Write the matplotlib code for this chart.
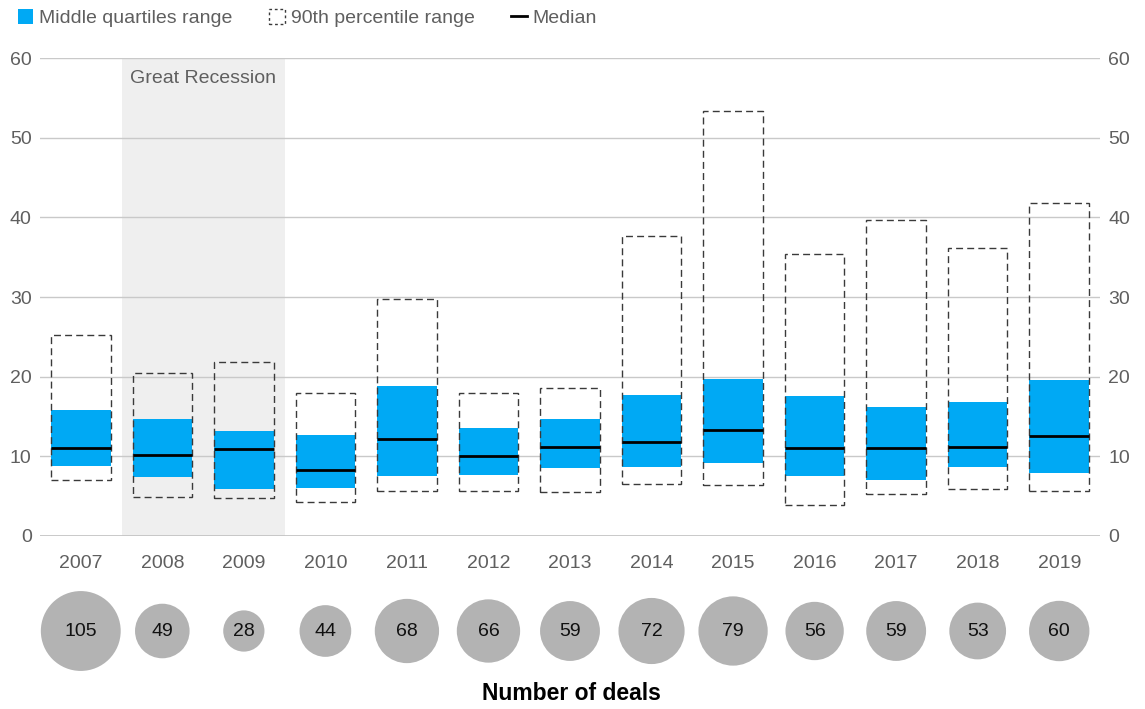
import numpy as np
import matplotlib.pyplot as plt
from matplotlib.patches import Patch
from matplotlib.lines import Line2D

plt.rcParams['font.family'] = ['Liberation Sans', 'DejaVu Sans']

years = ['2007', '2008', '2009', '2010', '2011', '2012', '2013',
         '2014', '2015', '2016', '2017', '2018', '2019']
p_low = [7.0, 4.85, 4.8, 4.3, 5.7, 5.65, 5.55, 6.5, 6.4, 3.85, 5.25, 5.85, 5.6]
p_high = [25.2, 20.5, 21.9, 18.0, 29.8, 17.9, 18.6, 37.6, 53.4, 35.4, 39.7, 36.1, 41.8]
q_low = [8.8, 7.45, 5.9, 6.05, 7.55, 7.7, 8.55, 8.7, 9.2, 7.55, 7.05, 8.7, 7.95]
q_high = [15.8, 14.7, 13.2, 12.7, 18.8, 13.55, 14.7, 17.7, 19.7, 17.6, 16.2, 16.8, 19.6]
median = [11.1, 10.2, 10.9, 8.25, 12.2, 10.1, 11.2, 11.8, 13.3, 11.1, 11.0, 11.2, 12.55]
deals = [105, 49, 28, 44, 68, 66, 59, 72, 79, 56, 59, 53, 60]

blue = '#00a9f4'
grey_txt = '#5f5f5f'
x = np.arange(len(years))
w = 0.73

fig = plt.figure(figsize=(11.45, 7.09), dpi=100)
ax = fig.add_axes([40 / 1145, 1 - 536 / 709, 1060 / 1145, 478 / 709])

# recession shading
ax.axvspan(0.5, 2.5, color='#efefef', zorder=0, lw=0)
ax.text(1.5, 57.4, 'Great Recession', ha='center', va='center',
        fontsize=14, color=grey_txt)

for v in range(10, 70, 10):
    ax.axhline(v, color='#c9c9c9', lw=1, zorder=1)
ax.axhline(0, color='#c4c4c4', lw=2, zorder=1)

q_low = np.array(q_low)
p_low = np.array(p_low)
ax.bar(x, np.array(q_high) - q_low, bottom=q_low, width=w,
       color=blue, zorder=2, lw=0)
ax.bar(x, np.array(p_high) - p_low, bottom=p_low, width=w, fill=False,
       edgecolor='#3a3a3a', linestyle=(0, (5, 3)), lw=1, zorder=3)
ax.hlines(median, x - w / 2, x + w / 2, color='black', lw=2, zorder=4)

ax.set_xlim(-0.5, 12.5)
ax.set_ylim(0, 60)
ax.set_yticks(range(0, 70, 10))
ax.set_xticks(x)
ax.set_xticklabels(years)
ax.tick_params(axis='both', length=0, labelsize=14, labelcolor=grey_txt)
ax.tick_params(axis='x', pad=14)
ax.tick_params(axis='y', pad=6, labelright=True)
for s in ax.spines.values():
    s.set_visible(False)

# legend across the top
handles = [Patch(facecolor=blue, edgecolor='none'),
           Patch(facecolor='none', edgecolor='#3a3a3a', linestyle=(0, (2, 2)), lw=1),
           Line2D([0], [0], color='black', lw=2)]
labels = ['Middle quartiles range', '90th percentile range', 'Median']
fig.legend(handles, labels, loc='upper left', bbox_to_anchor=(0.0, 1.012),
           ncol=3, frameon=False, fontsize=14, labelcolor=grey_txt,
           handlelength=0.8, handleheight=0.85, handletextpad=0.3,
           columnspacing=1.9)

# bubbles for deal counts
bx = fig.add_axes([40 / 1145, 1 - 685 / 709, 1060 / 1145, 108 / 709])
bx.scatter(x, np.zeros(len(x)), s=np.array(deals) * 31.5, color='#b3b3b3', lw=0)
for xi, d in zip(x, deals):
    bx.text(xi, 0, str(d), ha='center', va='center', fontsize=14, color='#111111')
bx.set_xlim(-0.5, 12.5)
bx.set_ylim(-1, 1)
bx.axis('off')

fig.text(571 / 1145, 1 - 694 / 709, 'Number of deals', ha='center', va='center',
         fontsize=16.5, fontweight='bold', color='black')

fig.savefig('out.png', dpi=100)
